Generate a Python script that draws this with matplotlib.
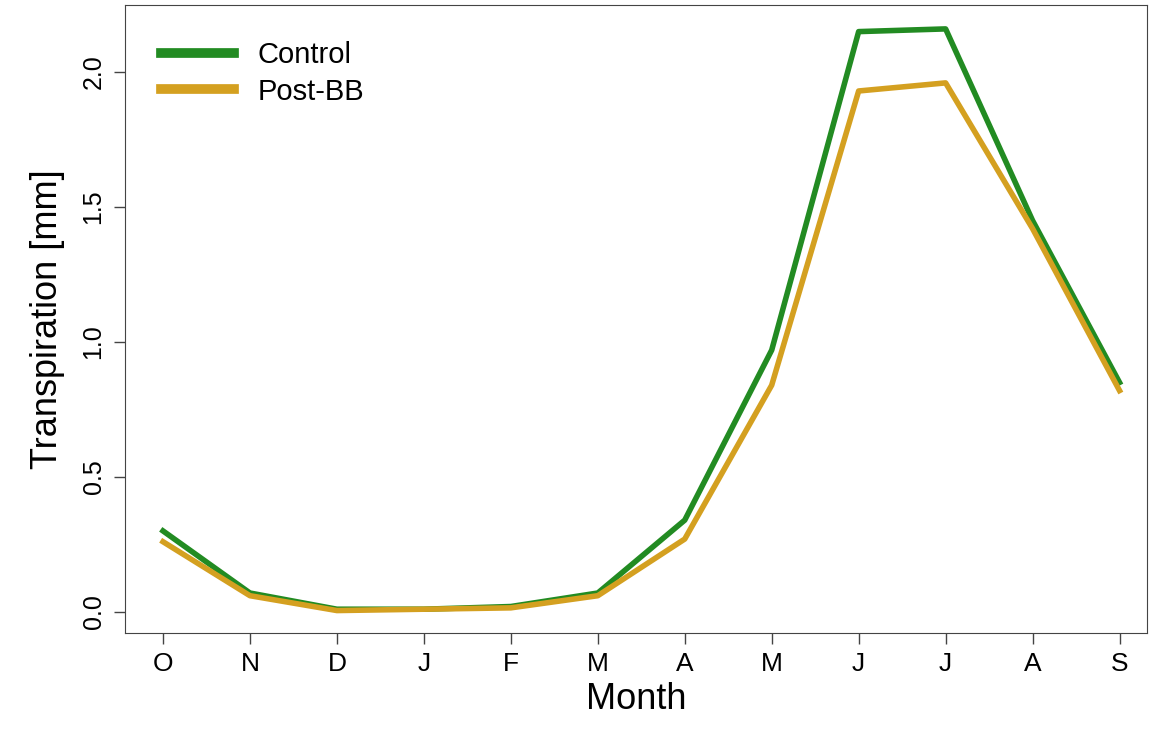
import numpy as np
import matplotlib
matplotlib.use("Agg")
import matplotlib.pyplot as plt

plt.rcParams['font.family'] = ['Liberation Sans', 'DejaVu Sans']

months = ["O", "N", "D", "J", "F", "M", "A", "M", "J", "J", "A", "S"]
control = [0.30, 0.07, 0.01, 0.01, 0.02, 0.07, 0.34, 0.97, 2.15, 2.16, 1.45, 0.85]
post_bb = [0.26, 0.06, 0.005, 0.01, 0.015, 0.06, 0.27, 0.84, 1.93, 1.96, 1.42, 0.82]

x = np.arange(1, len(months) + 1)

fig = plt.figure(figsize=(11.5, 7.36), dpi=100)
ax = fig.add_axes([0.1087, 0.140, 0.889, 0.853])
ax.plot(x, control, color="#228B22", lw=4, label="Control")
ax.plot(x, post_bb, color="#D4A020", lw=4, label="Post-BB")

ax.set_xlim(0.563, 12.32)
ax.set_ylim(-0.078, 2.248)
ax.set_xticks(x)
ax.set_xticklabels(months, fontsize=19)
ax.set_yticks([0, 0.5, 1.0, 1.5, 2.0])
ax.set_yticklabels(["0.0", "0.5", "1.0", "1.5", "2.0"], fontsize=18, rotation=90, va="center")
ax.tick_params(length=8, width=1, color="#444444", pad=6)
ax.set_xlabel("Month", fontsize=26, labelpad=4)
ax.set_ylabel("Transpiration [mm]", fontsize=26, labelpad=12)
for s in ax.spines.values():
    s.set_color("#444444")
leg = ax.legend(loc="upper left", fontsize=21, frameon=False, handlelength=2.5,
                bbox_to_anchor=(0.01, 0.985), labelspacing=0.3)
for line in leg.get_lines():
    line.set_linewidth(7)

fig.savefig("out.png", dpi=100)
